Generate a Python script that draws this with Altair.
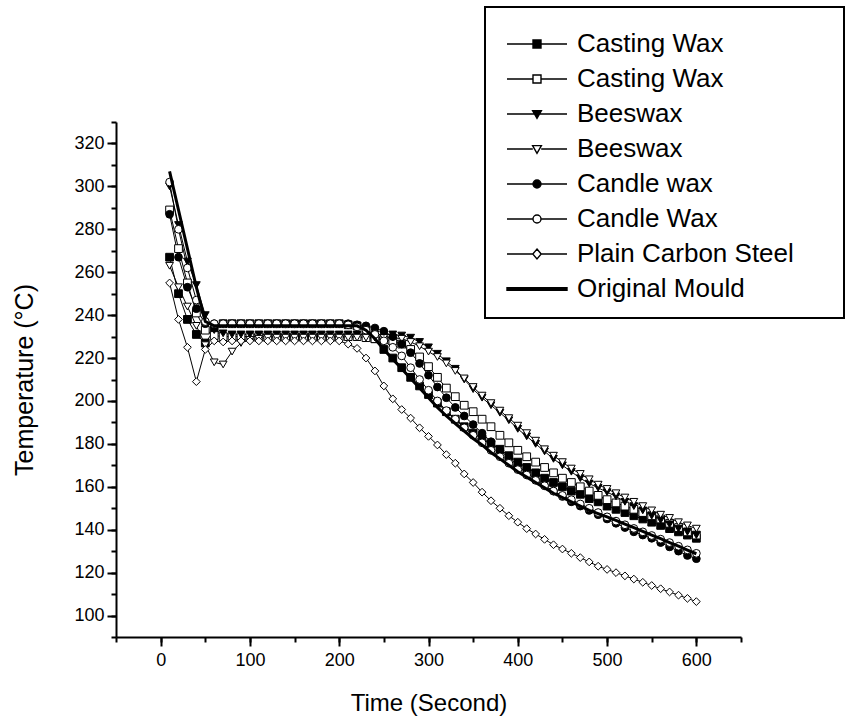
import altair as alt
import pandas as pd

TIME = list(range(10, 610, 10))

KEYS = ["cw_f", "cw_o", "bw_f", "bw_o", "cd_f", "cd_o", "pcs", "mould"]
LABELS = ["Casting Wax", "Casting Wax", "Beeswax", "Beeswax", "Candle wax",
          "Candle Wax", "Plain Carbon Steel", "Original Mould"]

casting_wax_filled = [267, 250, 238, 231, 227, 233, 236, 236, 236, 236,
                      236, 236, 236, 236, 236, 236, 236, 236, 236, 236,
                      235.5, 235, 233, 229, 224, 220, 215.5, 211, 207, 203,
                      199, 195, 191.5, 188, 185, 182.5, 180, 177.5, 174.5, 171.5,
                      169, 166.5, 164, 162, 160, 158, 156.5, 154.5, 153, 151,
                      149.5, 148, 146.5, 145, 143.5, 142, 140.5, 139, 137.5, 136]
casting_wax_open = [289, 271, 255, 241, 233, 230.5, 230, 230, 230, 230,
                    230, 230, 230, 230, 230, 230, 230, 230, 230, 230,
                    230, 230, 229.5, 229, 228.5, 228, 226.5, 224, 220.5, 216,
                    211, 206, 202, 198, 195, 191.5, 188, 184, 180.5, 177,
                    174, 171.5, 169, 166.5, 164, 162, 160, 158, 156, 154,
                    152.5, 151, 149.5, 148, 146.5, 145, 143, 141, 139, 137.5]
beeswax_filled = [300, 282, 265, 254, 240, 233, 231.5, 231, 231, 231,
                  231, 231, 231, 231, 231, 231, 231, 231, 231, 231,
                  231, 231, 231, 231, 231, 231, 230.5, 229.5, 227.5, 225,
                  222, 218.5, 215, 210, 205.5, 201.5, 198, 194.5, 191, 187,
                  183.5, 180, 176.5, 173, 170, 167, 164, 161.5, 159.5, 157.5,
                  155.5, 153, 151, 149, 146.5, 144.5, 142.5, 140.5, 139, 137.5]
beeswax_open = [263, 253, 244, 235, 226, 218, 217, 223, 227, 228.5,
                229, 229.5, 229.5, 229.5, 229.5, 229.5, 229.5, 229.5, 229.5, 229.5,
                229.5, 229.5, 229.5, 229.5, 229.5, 229.5, 229, 227.5, 225.5, 223,
                220.5, 217.5, 214, 210.5, 206.5, 202.5, 199, 195.5, 192, 188.5,
                185, 181.5, 177.5, 174.5, 171.5, 168.5, 166, 163.5, 161, 159,
                157, 155, 153, 151, 149, 147, 145.5, 143.5, 142, 140.5]
candle_wax_filled = [287, 267, 253, 243, 236, 236, 236, 236, 236, 236,
                     236, 236, 236, 236, 236, 236, 236, 236, 236, 236,
                     236, 235.5, 235, 234, 232.5, 230, 226.5, 222.5, 217.5, 212,
                     206.5, 201.5, 197, 193, 189, 185, 181, 177, 173.5, 170,
                     166.5, 163.5, 160.5, 158, 155.5, 153, 151, 149, 147, 145,
                     143, 141, 139, 137.5, 136, 134, 132, 130, 128, 126.5]
candle_wax_open = [302, 280, 262, 247, 237, 236, 236, 236, 236, 236,
                   236, 236, 236, 236, 236, 236, 236, 236, 236, 236,
                   235.5, 234.5, 233, 231, 228, 225, 221, 215.5, 210, 205,
                   200, 195.5, 191.5, 187.5, 184, 180.5, 177, 174, 171, 168,
                   165.5, 163, 160.5, 158, 156, 154, 152, 150, 148, 146,
                   144, 142.3, 140.6, 139, 137.3, 135.6, 134, 132.3, 130.6, 129]
plain_carbon_steel = [255, 238, 225, 209, 224, 228, 227.5, 228, 228, 228,
                      228, 228, 228, 228, 228, 228, 228, 228, 228, 228,
                      226.5, 224.5, 220, 214, 207, 201, 196, 192, 187.5, 183.5,
                      179.5, 175, 171, 166, 162, 157.5, 153.5, 150, 146.5, 143.5,
                      140.5, 138, 135.5, 133, 131, 129, 127, 125, 123, 121.5,
                      120, 118.5, 117, 115.5, 114, 112.5, 111, 109.5, 108, 106.5]
original_mould = [307, 289, 271, 253, 237, 235, 235, 235, 235, 235,
                  235, 235, 235, 235, 235, 235, 235, 235, 235, 235,
                  235, 235, 233, 229, 224, 219.5, 215, 210.5, 206, 201.5,
                  197, 193, 189.5, 186, 182.5, 179.5, 176, 173, 170, 167,
                  164.5, 162, 159.5, 157, 155, 153, 151, 149, 147.5, 146,
                  144.3, 142.6, 141, 139.2, 137.5, 135.8, 134, 132.3, 130.5, 128.8]

SERIES = [casting_wax_filled, casting_wax_open, beeswax_filled, beeswax_open,
          candle_wax_filled, candle_wax_open, plain_carbon_steel, original_mould]

X_TICKS = [-50, 0, 50, 100, 150, 200, 250, 300, 350, 400, 450, 500, 550, 600, 650]
X_LABELED = [0, 100, 200, 300, 400, 500, 600]
Y_TICKS = [90, 100, 110, 120, 130, 140, 150, 160, 170, 180, 190, 200, 210, 220,
           230, 240, 250, 260, 270, 280, 290, 300, 310, 320, 330]
Y_LABELED = [100, 120, 140, 160, 180, 200, 220, 240, 260, 280, 300, 320]

rows = []
for k, vals in zip(KEYS, SERIES):
    for t, v in zip(TIME, vals):
        rows.append({"t": t, "temp": v, "key": k})
df = pd.DataFrame(rows)

FONT = "Liberation Sans, Arial"

MARKER_KEYS = KEYS[:7]
PLOT_SHAPES = ["square", "square", "triangle-down", "triangle-down", "circle", "circle", "diamond"]
FILLS = ["black", "white", "black", "white", "black", "white", "white", "black"]
STROKES = ["black"] * 8

SQ = "M-1,-1L1,-1L1,1L-1,1Z"
TRI = "M-1.1,-0.85L1.1,-0.85L0,1.1Z"
CIR = "M-1,0A1,1,0,1,1,1,0A1,1,0,1,1,-1,0Z"
DIA = "M0,-1.25L1.05,0L0,1.25L-1.05,0Z"
FULL = "M-7.5,0L7.5,0"
SPLIT = "M-7.5,0L-1.05,0M1.05,0L7.5,0"
LEGEND_SHAPES = [FULL + SQ, SPLIT + SQ, FULL + TRI, SPLIT + TRI,
                 FULL + CIR, SPLIT + CIR, SPLIT + DIA,
                 "M-7.5,-0.3L7.5,-0.3L7.5,0.3L-7.5,0.3Z"]

PAD = "\u00a0\u00a0\u2800"
label_expr = " : ".join(
    f"datum.value == '{k}' ? '{lab}'" + (f" + '{PAD}'" if k == "pcs" else "")
    for k, lab in zip(KEYS, LABELS)
) + " : ''"

x_scale = alt.Scale(domain=[-50, 650], nice=False, zero=False)
y_scale = alt.Scale(domain=[90, 330], nice=False, zero=False)

major_x = alt.Axis(values=X_LABELED, orient="bottom", title="Time (Second)", grid=False,
                   tickSize=9, tickWidth=2, tickColor="black",
                   domainWidth=2, domainColor="black",
                   labelFont=FONT, labelFontSize=18, labelColor="black",
                   labelPadding=5, labelFlush=False, labelOverlap=False,
                   titleFont=FONT, titleFontSize=24, titleFontWeight="normal",
                   titleColor="black", titlePadding=22)
major_y = alt.Axis(values=Y_LABELED, orient="left", title="Temperature (°C)", grid=False,
                   tickSize=9, tickWidth=2, tickColor="black",
                   domainWidth=2, domainColor="black",
                   labelFont=FONT, labelFontSize=18, labelColor="black",
                   labelPadding=3, labelFlush=False, labelOverlap=False,
                   titleFont=FONT, titleFontSize=25, titleFontWeight="normal",
                   titleColor="black", titlePadding=36)
minor_x = alt.Axis(values=X_TICKS, orient="bottom", title=None, grid=False, labels=False,
                   tickSize=5, tickWidth=2, tickColor="black", domain=False)
minor_y = alt.Axis(values=Y_TICKS, orient="left", title=None, grid=False, labels=False,
                   tickSize=5, tickWidth=2, tickColor="black", domain=False)

legend = alt.Legend(
    title=" ", titleFontSize=2, titlePadding=6,
    orient="none", legendX=369, legendY=-115,
    direction="vertical", labelExpr=label_expr,
    labelFont=FONT, labelFontSize=26, labelColor="black",
    labelLimit=400, symbolSize=64, symbolOpacity=1,
    symbolStrokeColor="black", symbolStrokeWidth=1.4,
    symbolOffset=23, labelOffset=27, padding=16, rowPadding=9,
    strokeColor="black", fillColor="white", cornerRadius=0,
)

base = alt.Chart(df)

thin_lines = base.transform_filter(alt.datum.key != "mould").mark_line(
    color="black", strokeWidth=1
).encode(
    x=alt.X("t:Q", scale=x_scale, axis=major_x),
    y=alt.Y("temp:Q", scale=y_scale, axis=major_y),
    detail="key:N",
)

points = base.transform_filter(alt.datum.key != "mould").transform_calculate(
    key_order="indexof(['cw_f','cw_o','bw_f','bw_o','cd_f','cd_o','pcs'], datum.key)"
).mark_point(
    size=60, stroke="black", strokeWidth=1, opacity=1
).encode(
    x=alt.X("t:Q", scale=x_scale, axis=minor_x),
    y=alt.Y("temp:Q", scale=y_scale, axis=minor_y),
    shape=alt.Shape("key:N", scale=alt.Scale(domain=MARKER_KEYS, range=PLOT_SHAPES), legend=None),
    fill=alt.Fill("key:N", scale=alt.Scale(domain=MARKER_KEYS, range=FILLS[:7]), legend=None),
    order=alt.Order("key_order:Q"),
)

thick_line = base.transform_filter(alt.datum.key == "mould").mark_line(
    color="black", strokeWidth=3
).encode(
    x=alt.X("t:Q", scale=x_scale, axis=None),
    y=alt.Y("temp:Q", scale=y_scale, axis=None),
)

legend_layer = base.transform_filter(alt.datum.t < 0).mark_point(
    size=64, strokeWidth=1.4
).encode(
    x=alt.X("t:Q", scale=x_scale, axis=None),
    y=alt.Y("temp:Q", scale=y_scale, axis=None),
    shape=alt.Shape("key:N", scale=alt.Scale(domain=KEYS, range=LEGEND_SHAPES), legend=legend),
    fill=alt.Fill("key:N", scale=alt.Scale(domain=KEYS, range=FILLS), legend=legend),
    stroke=alt.Stroke("key:N", scale=alt.Scale(domain=KEYS, range=STROKES), legend=legend),
)

chart = alt.layer(thin_lines, points, thick_line, legend_layer).resolve_scale(
    shape="independent", fill="independent", stroke="independent"
).resolve_axis(
    x="independent", y="independent"
).properties(
    width=625, height=515,
    padding={"left": 116, "top": 122, "right": 107, "bottom": 85},
    autosize=alt.AutoSizeParams(type="none"),
    background="white",
).configure_view(
    stroke="transparent"
).configure_legend(
    strokeWidth=2
)

chart.save("out.html", embed_options={"renderer": "svg", "actions": False})
